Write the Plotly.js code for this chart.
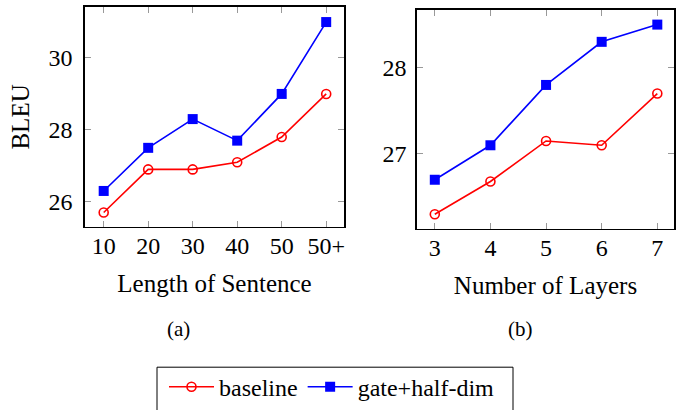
<!DOCTYPE html>
<html>
<head>
<meta charset="utf-8">
<script src="https://cdn.plot.ly/plotly-3.0.1.min.js"></script>
<style>html,body{margin:0;padding:0;background:#fff;}#chart{width:683px;height:410px;}</style>
</head>
<body>
<div id="chart"></div>
<script>
// Panel (a): BLEU vs length of sentence
var lengthCategories = ['10', '20', '30', '40', '50', '50+'];
var lengthBaseline = [25.7, 26.9, 26.9, 27.1, 27.8, 29.0];
var lengthGate = [26.3, 27.5, 28.3, 27.7, 29.0, 31.0];

// Panel (b): BLEU vs number of layers
var layerCategories = [3, 4, 5, 6, 7];
var layerBaseline = [26.3, 26.68, 27.15, 27.1, 27.7];
var layerGate = [26.7, 27.1, 27.8, 28.3, 28.5];

var seriesNames = ['baseline', 'gate+half-dim'];
var captions = ['(a)', '(b)'];

var W = 683, H = 410;
var FONT = 'Liberation Serif';
var RED = '#ff0000', BLUE = '#0000ff';

function px(x) { return x / W; }
function py(y) { return 1 - y / H; }

function tf(size) { return {family: FONT, size: size, color: '#000'}; }

var redStyle = {
  mode: 'lines+markers',
  line: {color: RED, width: 1.6},
  marker: {symbol: 'circle-open', size: 9, color: RED, line: {color: RED, width: 1.6}}
};
var blueStyle = {
  mode: 'lines+markers',
  line: {color: BLUE, width: 1.6},
  marker: {symbol: 'square', size: 10, color: BLUE}
};

var traces = [
  Object.assign({x: lengthCategories, y: lengthBaseline, name: seriesNames[0], xaxis: 'x', yaxis: 'y', legendgroup: 'b', showlegend: true}, redStyle),
  Object.assign({x: lengthCategories, y: lengthGate, name: seriesNames[1], xaxis: 'x', yaxis: 'y', legendgroup: 'g', showlegend: true}, blueStyle),
  Object.assign({x: layerCategories, y: layerBaseline, name: seriesNames[0], xaxis: 'x2', yaxis: 'y2', legendgroup: 'b', showlegend: false}, redStyle),
  Object.assign({x: layerCategories, y: layerGate, name: seriesNames[1], xaxis: 'x2', yaxis: 'y2', legendgroup: 'g', showlegend: false}, blueStyle)
];

function axisBase() {
  return {
    showgrid: false,
    zeroline: false,
    showline: true,
    linecolor: '#000',
    linewidth: 1.6,
    mirror: 'allticks',
    ticks: 'inside',
    ticklen: 6,
    tickwidth: 1,
    tickcolor: '#999',
    tickfont: tf(24)
  };
}

var layout = {
  width: W,
  height: H,
  margin: {l: 0, r: 0, t: 0, b: 0},
  paper_bgcolor: '#fff',
  plot_bgcolor: '#fff',
  font: tf(23),
  showlegend: true,
  xaxis: Object.assign(axisBase(), {
    domain: [px(85), px(344)],
    type: 'category',
    range: [-0.42, 5.4],
    anchor: 'y',
    ticklabelstandoff: -3,
    title: {text: 'Length of Sentence', font: tf(25), standoff: 16}
  }),
  yaxis: Object.assign(axisBase(), {
    domain: [py(228), py(7)],
    range: [25.3, 31.42],
    dtick: 2,
    tick0: 26,
    anchor: 'x',
    ticklabelstandoff: 6,
    title: {text: 'BLEU', font: tf(25), standoff: 12}
  }),
  xaxis2: Object.assign(axisBase(), {
    domain: [px(417), px(674)],
    range: [2.68, 7.3],
    dtick: 1,
    anchor: 'y2',
    ticklabelstandoff: -3,
    title: {text: 'Number of Layers', font: tf(25), standoff: 16}
  }),
  yaxis2: Object.assign(axisBase(), {
    domain: [py(230), py(10)],
    range: [26.13, 28.67],
    dtick: 1,
    tick0: 27,
    anchor: 'x2',
    ticklabelstandoff: 4
  }),
  legend: {
    orientation: 'h',
    x: px(164),
    xanchor: 'left',
    y: py(389),
    yanchor: 'middle',
    bgcolor: 'rgba(0,0,0,0)',
    borderwidth: 0,
    font: tf(24),
    itemwidth: 45,
    traceorder: 'normal'
  },
  shapes: [{
    type: 'rect', xref: 'paper', yref: 'paper',
    x0: px(157), x1: px(513), y0: py(420), y1: py(369),
    line: {color: '#000', width: 1}, fillcolor: 'rgba(0,0,0,0)'
  }],
  annotations: [
    {text: captions[0], xref: 'paper', yref: 'paper', x: px(178), y: py(331), showarrow: false, xanchor: 'center', yanchor: 'middle', font: tf(21)},
    {text: captions[1], xref: 'paper', yref: 'paper', x: px(520), y: py(331), showarrow: false, xanchor: 'center', yanchor: 'middle', font: tf(21)}
  ]
};

Plotly.newPlot('chart', traces, layout, {displayModeBar: false, staticPlot: true});
</script>
</body>
</html>
